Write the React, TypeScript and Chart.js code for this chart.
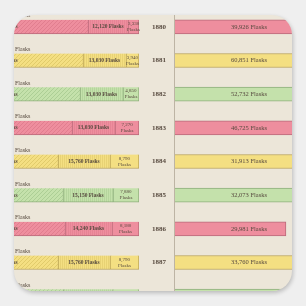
import React, { useEffect, useRef } from "react";
import { Chart, registerables } from "chart.js";
Chart.register(...registerables);

// ---- data ----
const years = ["1880", "1881", "1882", "1883", "1884", "1885", "1886", "1887", "1888"];
const rightValues = [39926, 60851, 52732, 46725, 31913, 32073, 29981, 33760, 34100];
const leftSmall = [3330, 3940, 4850, 7270, 8790, 7880, 8180, 8790, 8000];
const leftMid = [12120, 13030, 13030, 13030, 15760, 15150, 14240, 15760, 15000];
const leftFar = [52150, 49100, 47300, 42450, 33960, 37000, 38200, 33960, 35600];

// ---- styles ----
const palette = [
  { base: "#ee8e9e", hatch: "#dd7a8c", border: "#b96a7a" },
  { base: "#f4df82", hatch: "#dcc566", border: "#b9a254" },
  { base: "#c4e1ab", hatch: "#a6c98f", border: "#8fae7c" },
];
const TEXT = "#574a3f";
const STICKER = "#ece6d9";
const LEFT_X = -214; // canvas offset inside sticker
const TOP_Y = -5;
const ROWS_H = 303;

function diagPattern(bg: string, line: string) {
  const s = 4;
  const c = document.createElement("canvas");
  c.width = s;
  c.height = s;
  const g = c.getContext("2d")!;
  g.fillStyle = bg;
  g.fillRect(0, 0, s, s);
  g.strokeStyle = line;
  g.lineWidth = 0.8;
  g.beginPath();
  g.moveTo(-1, s + 1);
  g.lineTo(s + 1, -1);
  g.moveTo(-1, 1);
  g.lineTo(1, -1);
  g.moveTo(s - 1, s + 1);
  g.lineTo(s + 1, s - 1);
  g.stroke();
  return g.createPattern(c, "repeat")!;
}
function vertPattern(bg: string, line: string) {
  const c = document.createElement("canvas");
  c.width = 2;
  c.height = 1;
  const g = c.getContext("2d")!;
  g.fillStyle = bg;
  g.fillRect(0, 0, 2, 1);
  g.fillStyle = line;
  g.globalAlpha = 0.5;
  g.fillRect(0, 0, 1, 1);
  return g.createPattern(c, "repeat")!;
}

const fmt = (v: number) => v.toLocaleString("en-US");
const col = (i: number) => palette[i % 3];

export default function App() {
  const leftRef = useRef<HTMLCanvasElement>(null);
  const rightRef = useRef<HTMLCanvasElement>(null);

  useEffect(() => {
    const serif = "'Liberation Serif', 'DejaVu Serif', serif";
    const leftW = 340;
    const k = 0.0033;
    const leftLabels = {
      id: "leftLabels",
      afterDatasetsDraw(chart: any) {
        const ctx = chart.ctx;
        ctx.save();
        ctx.fillStyle = TEXT;
        ctx.textBaseline = "middle";
        const metaS = chart.getDatasetMeta(0);
        const metaM = chart.getDatasetMeta(1);
        const metaF = chart.getDatasetMeta(2);
        years.forEach((_, i) => {
          const s = metaS.data[i];
          const m = metaM.data[i];
          const f = metaF.data[i];
          const y = s.y;
          ctx.font = `5px ${serif}`;
          ctx.textAlign = "center";
          const sx = (s.x + s.base) / 2;
          ctx.fillText(fmt(leftSmall[i]), sx, y - 3);
          ctx.fillText("Flasks", sx, y + 3);
          ctx.font = `bold 5.5px ${serif}`;
          ctx.fillText(fmt(leftMid[i]) + " Flasks", (m.x + m.base) / 2, y);
          ctx.fillText(fmt(leftFar[i]) + " Flasks", (f.x + f.base) / 2, y);
          ctx.textAlign = "left";
          ctx.font = `6px ${serif}`;
          ctx.fillText("Flasks", -LEFT_X + 1, y - 11);
        });
        ctx.restore();
      },
    };
    const left = new Chart(leftRef.current!, {
      type: "bar",
      data: {
        labels: years,
        datasets: [
          {
            data: leftSmall,
            backgroundColor: years.map((_, i) => col(i).base),
            borderColor: years.map((_, i) => col(i).border),
            borderWidth: { top: 0, bottom: 1, left: 1, right: 1 },
            borderSkipped: false,
          },
          {
            data: leftMid,
            backgroundColor: years.map((_, i) => vertPattern(col(i).base, col(i).hatch)),
            borderColor: years.map((_, i) => col(i).border),
            borderWidth: { top: 0, bottom: 1, left: 1, right: 0 },
            borderSkipped: false,
          },
          {
            data: leftFar,
            backgroundColor: years.map((_, i) => diagPattern(col(i).base, col(i).hatch)),
            borderColor: years.map((_, i) => col(i).border),
            borderWidth: { top: 0, bottom: 1, left: 0, right: 0 },
            borderSkipped: false,
          },
        ],
      },
      options: {
        indexAxis: "y",
        animation: false,
        responsive: false,
        devicePixelRatio: 1,
        layout: { padding: { left: 0, right: 1, top: 0, bottom: 0 } },
        datasets: { bar: { barThickness: 14 } },
        plugins: { legend: { display: false }, tooltip: { enabled: false } },
        scales: {
          x: { display: false, stacked: true, reverse: true, min: 0, max: (leftW - 1) / k },
          y: { display: false, stacked: true },
        },
      },
      plugins: [leftLabels],
    } as any);

    const rightLabels = {
      id: "rightLabels",
      beforeDatasetsDraw(chart: any) {
        const ctx = chart.ctx;
        const a = chart.chartArea;
        ctx.save();
        ctx.strokeStyle = "#bdb4a4";
        ctx.lineWidth = 1;
        ctx.beginPath();
        ctx.moveTo(a.left - 0.5, 0);
        ctx.lineTo(a.left - 0.5, chart.height);
        ctx.stroke();
        ctx.restore();
      },
      afterDatasetsDraw(chart: any) {
        const ctx = chart.ctx;
        const a = chart.chartArea;
        const ys = chart.scales.y;
        ctx.save();
        ctx.fillStyle = TEXT;
        ctx.textBaseline = "middle";
        ctx.textAlign = "center";
        years.forEach((yr, i) => {
          const y = ys.getPixelForValue(i);
          ctx.font = `bold 7px ${serif}`;
          ctx.fillText(yr, a.left - 16, y);
          ctx.font = `6.5px ${serif}`;
          ctx.fillText(fmt(rightValues[i]) + " Flasks", a.left + 74, y);
        });
        ctx.restore();
      },
    };
    const right = new Chart(rightRef.current!, {
      type: "bar",
      data: {
        labels: years,
        datasets: [
          {
            data: rightValues,
            backgroundColor: years.map((_, i) => col(i).base),
            borderColor: years.map((_, i) => col(i).border),
            borderWidth: { top: 1, bottom: 1, left: 0, right: 1 },
            borderSkipped: false,
          },
        ],
      },
      options: {
        indexAxis: "y",
        animation: false,
        responsive: false,
        devicePixelRatio: 1,
        layout: { padding: { left: 35, right: 0, top: 0, bottom: 0 } },
        datasets: { bar: { barThickness: 14 } },
        plugins: { legend: { display: false }, tooltip: { enabled: false } },
        scales: {
          x: { display: false, min: 0, max: 35400 },
          y: { display: false },
        },
      },
      plugins: [rightLabels],
    } as any);

    return () => {
      left.destroy();
      right.destroy();
    };
  }, []);

  return (
    <div style={{ position: "fixed", left: 0, top: 0, width: 306, height: 306, background: "#efefef", overflow: "hidden" }}>
      <div
        style={{
          position: "absolute",
          left: 14,
          top: 15,
          width: 278,
          height: 276,
          borderRadius: 20,
          overflow: "hidden",
          background: STICKER,
          boxShadow: "1px 2px 4px rgba(0,0,0,0.22)",
        }}
      >
        <canvas
          ref={leftRef}
          width={340}
          height={ROWS_H}
          style={{ position: "absolute", left: LEFT_X, top: TOP_Y, width: 340, height: ROWS_H }}
        />
        <canvas
          ref={rightRef}
          width={166}
          height={ROWS_H}
          style={{ position: "absolute", left: 126, top: TOP_Y, width: 166, height: ROWS_H }}
        />
      </div>
    </div>
  );
}
